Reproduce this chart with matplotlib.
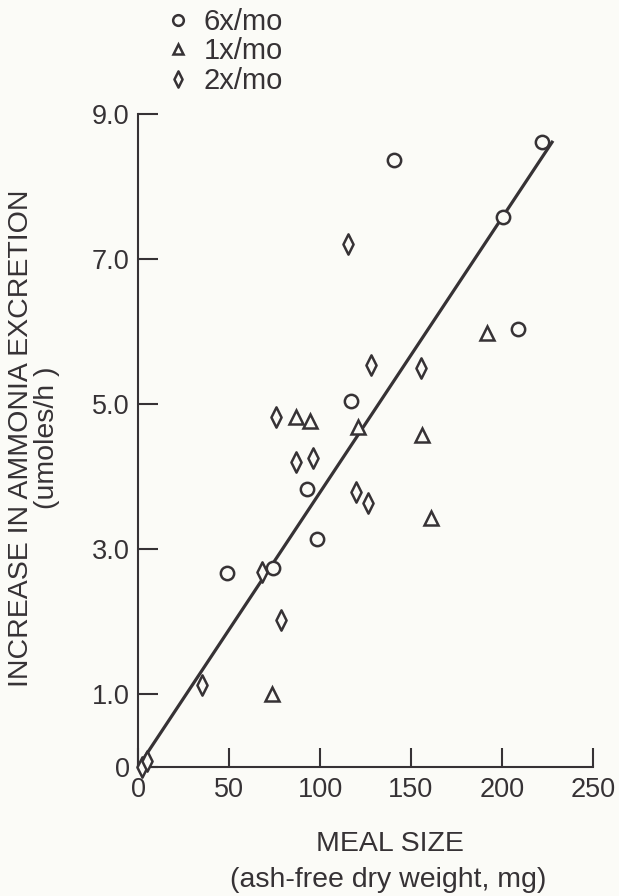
import matplotlib
matplotlib.use("Agg")
import matplotlib.pyplot as plt
from matplotlib.path import Path
import numpy as np

# ---- data ----
six_x = [48.9, 74.1, 93.1, 98.2, 117.0, 140.5, 200.7, 209.0, 222.0]
six_y = [2.68, 2.74, 3.83, 3.14, 5.05, 8.37, 7.58, 6.03, 8.62]
one_x = [73.8, 87.0, 94.6, 120.7, 156.2, 161.1, 191.5]
one_y = [1.01, 4.83, 4.77, 4.68, 4.57, 3.43, 5.98]
two_x = [2.0, 4.8, 35.1, 67.9, 75.6, 78.4, 86.6, 95.9, 115.2, 119.8, 126.2, 128.0, 155.6]
two_y = [0.0, 0.08, 1.13, 2.69, 4.83, 2.02, 4.21, 4.26, 7.21, 3.79, 3.64, 5.54, 5.50]
fit_x = [0.0, 228.0]
fit_y = [0.0, 8.63]
xticks = [0, 50, 100, 150, 200, 250]
xticklabels = ["0", "50", "100", "150", "200", "250"]
yticks = [0, 1, 3, 5, 7, 9]
yticklabels = ["0", "1.0", "3.0", "5.0", "7.0", "9.0"]
labels = ["6x/mo", "1x/mo", "2x/mo"]

INK = "#363235"
BG = "#fbfbf7"
plt.rcParams['font.family'] = ['Liberation Sans', 'DejaVu Sans']

W, H = 619, 896
fig = plt.figure(figsize=(W / 100, H / 100), dpi=100, facecolor=BG)
ax = fig.add_axes([138 / W, 1 - 767 / H, 455 / W, 653 / H])
ax.set_facecolor(BG)
ax.patch.set_alpha(0)

diamond = Path([(0, 1), (0.5, 0), (0, -1), (-0.5, 0), (0, 1)],
               [Path.MOVETO, Path.LINETO, Path.LINETO, Path.LINETO, Path.CLOSEPOLY])

ax.plot(fit_x, fit_y, color=INK, lw=2.3, solid_capstyle='butt', zorder=2, clip_on=False)
mkw = dict(ls='none', mec=INK, mfc=BG, mew=1.8, clip_on=False, zorder=3)
h1, = ax.plot(six_x, six_y, marker='o', ms=9.6, **mkw)
h2, = ax.plot(one_x, one_y, marker='^', ms=9.8, **mkw)
h3, = ax.plot(two_x, two_y, marker=diamond, ms=14.6, **mkw)

ax.set_xlim(0, 250)
ax.set_ylim(0, 9)
for s in ['top', 'right']:
    ax.spines[s].set_visible(False)
for s in ['left', 'bottom']:
    ax.spines[s].set_color(INK)
    ax.spines[s].set_linewidth(1.5)

ax.set_xticks(xticks)
ax.set_xticklabels(xticklabels)
ax.set_yticks(yticks)
ax.set_yticklabels(yticklabels)
ax.tick_params(axis='x', direction='in', length=13.5, width=1.5, color=INK,
               labelcolor=INK, labelsize=19.5, pad=7)
ax.tick_params(axis='y', direction='in', length=14.5, width=1.5, color=INK,
               labelcolor=INK, labelsize=19.5, pad=6)

fig.text(390 / W, 1 - 844 / H, "MEAL SIZE", ha='center', va='center',
         fontsize=20.5, color=INK)
fig.text(388 / W, 1 - 880 / H, "(ash-free dry weight, mg)", ha='center', va='center',
         fontsize=20.5, color=INK)
fig.text(34 / W, 1 - 438 / H, "INCREASE IN AMMONIA EXCRETION\n(umoles/h )",
         ha='center', va='center', multialignment='center', linespacing=1.0,
         rotation=90, fontsize=20.5, color=INK)

leg = fig.legend([h1, h2, h3], labels, loc='upper left',
                 bbox_to_anchor=(166 / W, 1 - 8 / H), frameon=False,
                 borderpad=0, borderaxespad=0, handlelength=0.8,
                 handletextpad=0.5, labelspacing=0.05, fontsize=21,
                 markerscale=0.8, labelcolor=INK)

fig.savefig("out.png", dpi=100, facecolor=BG)
